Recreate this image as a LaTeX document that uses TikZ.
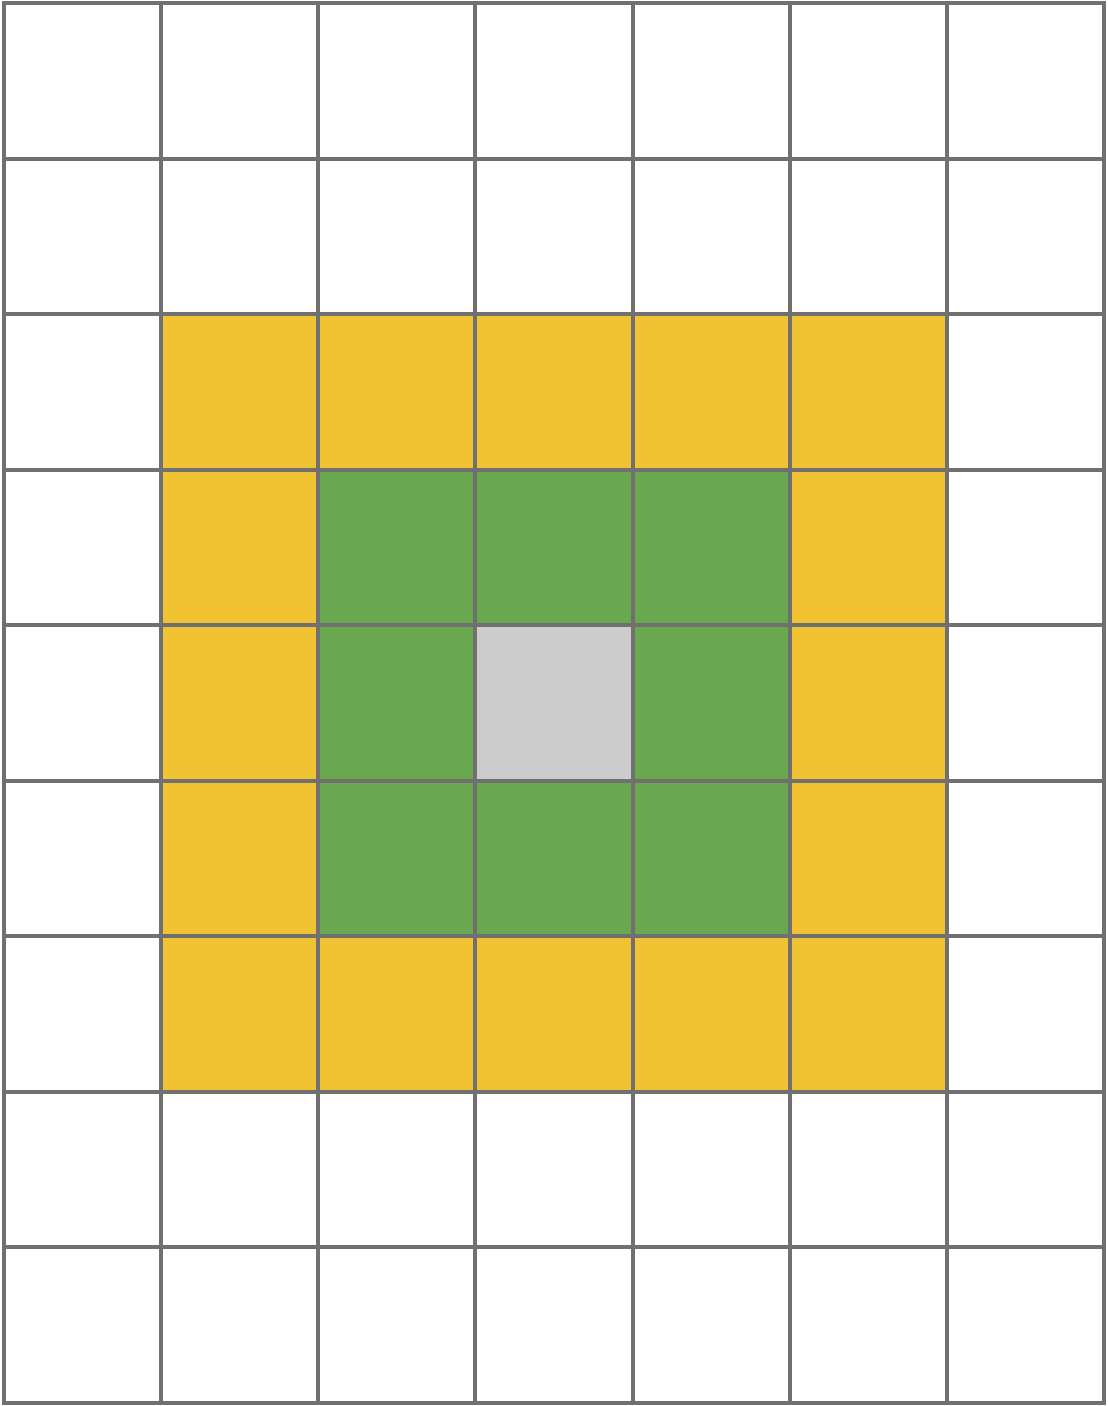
\documentclass[tikz,border=0pt]{standalone}
\usepackage{tikz}
\usetikzlibrary{positioning}
\definecolor{ringyellow}{HTML}{F1C232}
\definecolor{ringgreen}{HTML}{6AA84F}
\definecolor{centregray}{HTML}{CCCCCC}
\definecolor{gridline}{HTML}{707070}
\tikzset{
  cellgrid/.style={gridline,line width=0.04cm,line cap=rect},
}

\begin{document}
\begin{tikzpicture}[x=1.5714cm,y=-1.5556cm]
  \useasboundingbox (-0.0255,-0.0193) rectangle (7.0255,9.0193);
  \fill[ringyellow] (1,2) rectangle (6,7);
  \fill[ringgreen] (2,3) rectangle (5,6);
  \fill[centregray] (3,4) rectangle (4,5);
  \foreach \i in {0,...,7}
    \draw[cellgrid] (\i,0) -- (\i,9);
  \foreach \j in {0,...,9}
    \draw[cellgrid] (0,\j) -- (7,\j);
\end{tikzpicture}
\end{document}
